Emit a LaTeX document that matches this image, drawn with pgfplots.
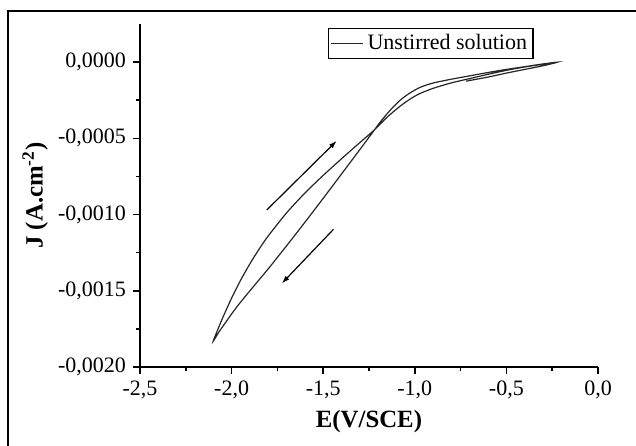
\documentclass[border=0pt]{standalone}
\usepackage{fontspec}
\setmainfont{Liberation Serif}
\usepackage{pgfplots}
\usepackage{pgfplotstable}
\pgfplotsset{compat=1.18}
\usetikzlibrary{arrows.meta}

% cyclic scan: start near -0.72 V, out to -0.22 V, down to -2.10 V and back
\pgfplotstableread{
E J
-0.72 -0.000125
-0.60 -0.000098
-0.50 -0.000072
-0.40 -0.000048
-0.30 -0.000024
-0.22 0.000000
-0.30 -0.000012
-0.40 -0.000030
-0.50 -0.000048
-0.60 -0.000068
-0.70 -0.000090
-0.80 -0.000112
-0.90 -0.000137
-0.97 -0.000165
-1.03 -0.000205
-1.08 -0.000250
-1.13 -0.000310
-1.18 -0.000380
-1.22 -0.000444
-1.30 -0.000574
-1.38 -0.000702
-1.46 -0.000830
-1.544 -0.000963
-1.62 -0.001082
-1.70 -0.001205
-1.80 -0.001356
-1.90 -0.001500
-1.96 -0.001588
-2.00 -0.001652
-2.04 -0.001720
-2.07 -0.001772
-2.10 -0.001830
-2.08 -0.001768
-2.05 -0.001681
-2.00 -0.001548
-1.95 -0.001429
-1.90 -0.001323
-1.85 -0.001227
-1.80 -0.001140
-1.70 -0.000989
-1.60 -0.000859
-1.50 -0.000743
-1.40 -0.000634
-1.30 -0.000528
-1.22 -0.000444
-1.15 -0.000360
-1.079 -0.000288
-1.02 -0.000238
-0.97 -0.000205
-0.90 -0.000172
-0.80 -0.000136
-0.70 -0.000108
-0.60 -0.000080
-0.50 -0.000054
-0.40 -0.000032
-0.30 -0.000014
-0.22 0.000000
}\scan

\begin{document}
\begin{tikzpicture}
\path[use as bounding box] (-70pt,-39pt) rectangle (248pt,183.5pt);
\draw[line width=1pt] (-66pt,-45pt) -- (-66pt,178pt) -- (252pt,178pt);
\begin{axis}[
  at={(0pt,0pt)}, anchor=south west,
  scale only axis,
  width=229pt, height=171.5pt,
  xmin=-2.5, xmax=0,
  ymin=-0.002, ymax=0.00025,
  axis lines*=left,
  axis line style={-, line width=0.8pt},
  xtick={-2.5,-2,-1.5,-1,-0.5,0},
  ytick={-0.002,-0.0015,-0.001,-0.0005,0},
  minor x tick num=1, minor y tick num=1,
  tick align=outside,
  major tick length=3.5pt, minor tick length=2pt,
  tick style={line width=0.8pt, black},
  scaled y ticks=false,
  /pgf/number format/assume math mode=true,
  xticklabel style={/pgf/number format/.cd, fixed, fixed zerofill, precision=1, use comma},
  yticklabel style={/pgf/number format/.cd, fixed, fixed zerofill, precision=4, use comma},
  tick label style={font=\fontsize{11}{13}\selectfont},
  xlabel={E(V/SCE)},
  ylabel={J (A.cm\textsuperscript{-2})},
  label style={font=\fontsize{12.4}{14}\selectfont\bfseries},
  xlabel style={at={(axis description cs:0.5,-0.160)}, anchor=center},
  ylabel style={at={(axis description cs:-0.229,0.5)}, anchor=center},
  legend style={at={(axis description cs:0.41,0.988)}, anchor=north west,
    draw=black, line width=0.6pt, font=\fontsize{11}{13}\selectfont,
    inner xsep=1pt, inner ysep=0.8pt},
  legend cell align=left,
  legend image code/.code={\draw[#1] (0pt,0pt) -- (16pt,0pt);},
]
\addplot[smooth, tension=0.4, line width=0.6pt, black!85] table[x=E, y=J] {\scan};
\addlegendentry{Unstirred solution}
\addplot[forget plot, line width=0.6pt, black, -{Latex[length=4pt,width=2.6pt]}]
  coordinates {(-1.808,-0.000970) (-1.426,-0.000516)};
\addplot[forget plot, line width=0.6pt, black, -{Latex[length=4pt,width=2.6pt]}]
  coordinates {(-1.444,-0.001097) (-1.726,-0.001452)};
\end{axis}
\end{tikzpicture}
\end{document}
